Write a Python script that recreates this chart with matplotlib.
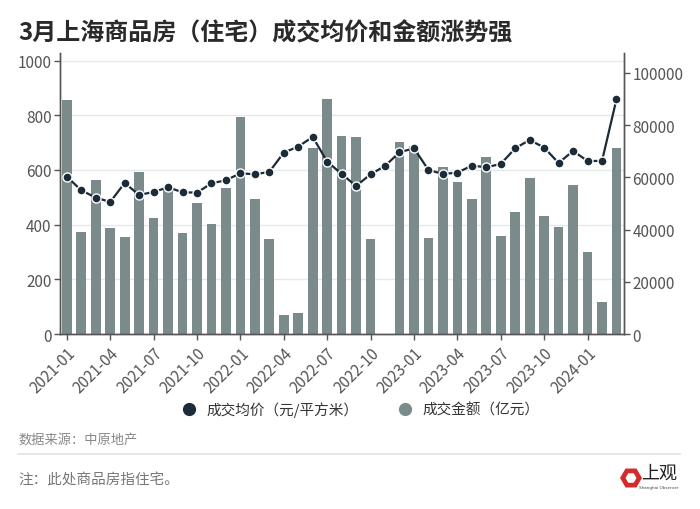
import numpy as np
import matplotlib.pyplot as plt
from matplotlib.patches import RegularPolygon
from matplotlib.lines import Line2D

plt.rcParams['font.family'] = ['Noto Sans CJK SC', 'DejaVu Sans']

months = [f'{y}-{m:02d}' for y in (2021, 2022, 2023, 2024) for m in range(1, 13)][:39]
amount = [856, 372, 563, 387, 355, 593, 423, 530, 371, 480, 401, 535, 795, 493, 349,
          68, 78, 682, 859, 724, 722, 346, np.nan, 702, 689, 351, 612, 557, 495, 646,
          358, 448, 570, 430, 391, 544, 300, 116, 682]
price = [60280, 55040, 52240, 50570, 57850, 53260, 54400, 56190, 54280, 54150, 57730,
         58880, 61560, 61170, 62070, 69480, 71780, 75480, 66030, 61300, 56700, 61170,
         64370, 69600, 71140, 62840, 61300, 61810, 64500, 63860, 65130, 71140, 74330,
         71390, 65520, 70110, 66280, 66280, 89910]

bar_color = '#7b8b8c'
line_color = '#1b2b38'
text_color = '#555555'

fig = plt.figure(figsize=(7, 5.1), dpi=100)
ax = fig.add_axes([60 / 700, 1 - 335 / 510, 564 / 700, 281 / 510])
x = np.arange(len(months))
ax.bar(x, amount, width=0.67, color=bar_color, zorder=2)
ax.set_xlim(-0.47, len(months) - 0.48)
ax.set_ylim(0, 1028)
ax.set_yticks(range(0, 1001, 200))
ax.grid(axis='y', color='#e3ebea', lw=1, zorder=0)

i = ax.twinx()
i.plot(x, price, color=line_color, lw=1.6, marker='o', ms=6.5,
       markeredgecolor='white', markeredgewidth=1, zorder=3)
i.set_ylim(0, 1028 * 104.7)
i.set_yticks(range(0, 100001, 20000))

ax.set_xticks(x[::3])
ax.set_xticklabels(months[::3], rotation=45, ha='right', rotation_mode='anchor')

for a in (ax, i):
    a.spines['top'].set_visible(False)
    for s in ('left', 'right', 'bottom'):
        a.spines[s].set_color('#555555')
        a.spines[s].set_linewidth(1)
    a.tick_params(labelsize=11, colors=text_color, length=4, width=1, pad=2)
ax.tick_params(axis='x', pad=3)

fig.text(18 / 700, 1 - 33 / 510, '3月上海商品房（住宅）成交均价和金额涨势强',
         fontsize=17.3, fontweight='bold', color='#2a2a2a', va='center')

handles = [Line2D([], [], marker='o', ls='', color=line_color, ms=8.5),
           Line2D([], [], marker='o', ls='', color=bar_color, ms=8.5)]
fig.legend(handles, ['成交均价（元/平方米）', '成交金额（亿元）'], loc='center',
           bbox_to_anchor=(357 / 700, 1 - 410 / 510), ncol=2, frameon=False,
           fontsize=10.5, handletextpad=0.2, columnspacing=2.2, labelcolor='#333333')

fig.text(18 / 700, 1 - 440 / 510, '数据来源：中原地产', fontsize=9.5, color='#888888', va='center')
fig.add_artist(Line2D([18 / 700, 680 / 700], [1 - 455 / 510] * 2, color='#e2e2e2', lw=1.2))
fig.text(18 / 700, 1 - 480 / 510, '注：此处商品房指住宅。', fontsize=10.5, color='#777777', va='center')

# logo
lax = fig.add_axes([618 / 700, 1 - 492 / 510, 26 / 700, 26 / 510])
lax.set_xlim(-1, 1)
lax.set_ylim(-1, 1)
lax.set_aspect('equal')
lax.axis('off')
lax.add_patch(RegularPolygon((0, 0), 6, radius=0.78, orientation=np.pi / 6, color='#d42a2a'))
lax.add_patch(RegularPolygon((0, 0), 6, radius=0.36, orientation=np.pi / 6, color='white'))
fig.text(659 / 700, 1 - 474 / 510, '上观', fontsize=13, color='#222222', ha='center', va='center')
fig.text(659 / 700, 1 - 488 / 510, 'Shanghai Observer', fontsize=3, color='#444444', ha='center',
         va='center', family=['DejaVu Sans'])

fig.savefig('out.png', dpi=100)
